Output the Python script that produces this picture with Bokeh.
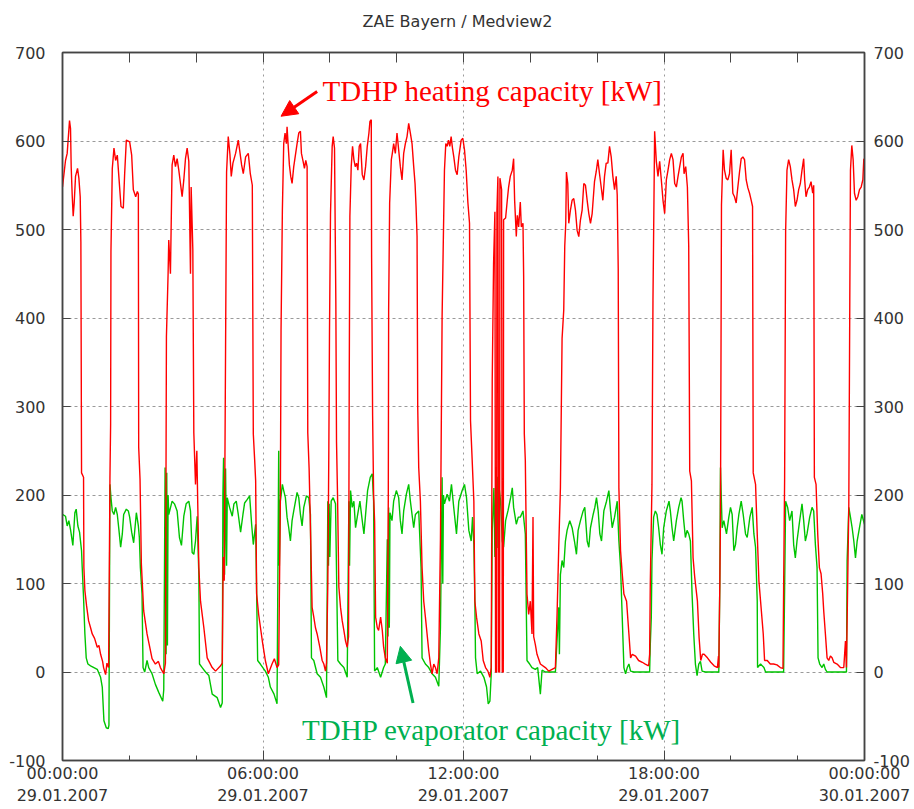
from bokeh.plotting import figure
from bokeh.models import Range1d, LinearAxis, FixedTicker, Arrow, NormalHead, Label
from bokeh.embed import file_html
from bokeh.resources import INLINE

# ---- data (hours after 29.01.2007 00:00, kW) ----
heat_t = [0.00, 0.09, 0.14, 0.21, 0.24, 0.26, 0.29, 0.32, 0.35, 0.39, 0.45, 0.49, 0.53, 0.55, 0.57, 0.63, 0.64, 0.67, 0.72, 0.78,
          0.84, 0.89, 0.96, 1.04, 1.09, 1.14, 1.20, 1.23, 1.29, 1.33, 1.38, 1.42, 1.44, 1.45, 1.49, 1.54, 1.59, 1.64, 1.69, 1.75,
          1.82, 1.86, 1.91, 2.01, 2.07, 2.12, 2.19, 2.24, 2.27, 2.28, 2.32, 2.36, 2.43, 2.53, 2.60, 2.68, 2.78, 2.87, 2.93, 3.03,
          3.08, 3.11, 3.16, 3.18, 3.23, 3.28, 3.33, 3.38, 3.43, 3.48, 3.53, 3.58, 3.63, 3.68, 3.73, 3.78, 3.83, 3.85, 3.90, 3.93,
          3.98, 4.02, 4.08, 4.13, 4.23, 4.33, 4.48, 4.58, 4.73, 4.78, 4.81, 4.84, 4.88, 4.91, 4.96, 5.01, 5.05, 5.10, 5.18, 5.26,
          5.30, 5.36, 5.41, 5.48, 5.56, 5.62, 5.68, 5.71, 5.75, 5.78, 5.81, 5.87, 5.98, 6.07, 6.16, 6.27, 6.34, 6.42, 6.47, 6.52,
          6.54, 6.58, 6.62, 6.66, 6.70, 6.72, 6.75, 6.79, 6.83, 6.87, 6.92, 6.97, 7.02, 7.07, 7.12, 7.15, 7.20, 7.24, 7.28, 7.32,
          7.34, 7.38, 7.41, 7.47, 7.52, 7.57, 7.62, 7.70, 7.77, 7.82, 7.87, 7.90, 7.94, 7.97, 7.99, 8.02, 8.07, 8.10, 8.14, 8.18,
          8.20, 8.23, 8.27, 8.32, 8.37, 8.42, 8.47, 8.52, 8.56, 8.58, 8.60, 8.64, 8.68, 8.72, 8.76, 8.80, 8.84, 8.88, 8.92, 8.97,
          9.02, 9.07, 9.12, 9.17, 9.20, 9.24, 9.25, 9.28, 9.31, 9.34, 9.37, 9.42, 9.46, 9.52, 9.57, 9.61, 9.66, 9.72, 9.75, 9.76,
          9.79, 9.84, 9.87, 9.91, 9.96, 10.01, 10.06, 10.11, 10.16, 10.21, 10.26, 10.31, 10.36, 10.41, 10.46, 10.51, 10.55, 10.58, 10.61, 10.63,
          10.66, 10.71, 10.76, 10.81, 10.86, 10.91, 10.96, 11.01, 11.06, 11.11, 11.16, 11.21, 11.26, 11.31, 11.36, 11.39, 11.43, 11.47, 11.51, 11.55,
          11.59, 11.63, 11.67, 11.71, 11.76, 11.81, 11.86, 11.93, 11.98, 12.03, 12.08, 12.13, 12.18, 12.21, 12.26, 12.31, 12.34, 12.39, 12.46, 12.53,
          12.59, 12.66, 12.73, 12.79, 12.83, 12.86, 12.90, 12.94, 12.96, 12.99, 13.00, 13.03, 13.05, 13.08, 13.09, 13.14, 13.16, 13.19, 13.20, 13.26,
          13.31, 13.35, 13.40, 13.46, 13.50, 13.53, 13.58, 13.61, 13.65, 13.70, 13.73, 13.78, 13.80, 13.82, 13.85, 13.90, 13.95, 14.00, 14.05, 14.08,
          14.10, 14.15, 14.20, 14.30, 14.45, 14.55, 14.65, 14.75, 14.80, 14.85, 14.90, 14.95, 15.00, 15.03, 15.06, 15.08, 15.12, 15.15, 15.20, 15.25,
          15.30, 15.35, 15.40, 15.45, 15.50, 15.55, 15.60, 15.65, 15.70, 15.75, 15.80, 15.85, 15.92, 15.97, 16.02, 16.07, 16.12, 16.17, 16.22, 16.27,
          16.32, 16.37, 16.42, 16.47, 16.52, 16.57, 16.60, 16.63, 16.65, 16.70, 16.75, 16.80, 16.88, 16.95, 17.00, 17.05, 17.15, 17.24, 17.35, 17.44,
          17.54, 17.57, 17.59, 17.64, 17.67, 17.72, 17.77, 17.82, 17.87, 17.92, 17.97, 18.02, 18.07, 18.12, 18.17, 18.22, 18.27, 18.32, 18.37, 18.42,
          18.47, 18.52, 18.57, 18.60, 18.65, 18.70, 18.74, 18.77, 18.82, 18.87, 18.92, 19.00, 19.05, 19.10, 19.15, 19.20, 19.30, 19.40, 19.50, 19.60,
          19.63, 19.64, 19.67, 19.69, 19.72, 19.77, 19.81, 19.86, 19.91, 19.96, 20.01, 20.06, 20.11, 20.16, 20.21, 20.26, 20.31, 20.36, 20.41, 20.46,
          20.51, 20.56, 20.61, 20.65, 20.67, 20.74, 20.79, 20.84, 20.89, 20.97, 21.01, 21.09, 21.18, 21.28, 21.38, 21.48, 21.56, 21.58, 21.61, 21.64,
          21.68, 21.73, 21.78, 21.83, 21.88, 21.93, 21.98, 22.03, 22.08, 22.13, 22.18, 22.21, 22.25, 22.30, 22.35, 22.40, 22.45, 22.48, 22.50, 22.55,
          22.60, 22.65, 22.70, 22.75, 22.78, 22.83, 22.88, 22.93, 22.98, 23.03, 23.08, 23.18, 23.28, 23.38, 23.43, 23.46, 23.53, 23.56, 23.58, 23.62,
          23.66, 23.70, 23.75, 23.80, 23.85, 23.90, 23.95, 23.98, 24.00]
heat_v = [548, 578, 586, 623, 614, 571, 539, 515, 530, 560, 569, 558, 537, 486, 225, 220, 118, 92, 75, 58,
          50, 43, 38, 28, 30, 20, 12, 5, -3, 10, 5, 220, 280, 475, 569, 592, 578, 584, 558, 526,
          524, 563, 601, 599, 584, 545, 537, 543, 540, 254, 218, 122, 69, 43, 30, 15, 9, 12, 5, -2,
          10, 379, 450, 488, 450, 573, 584, 571, 580, 567, 552, 537, 556, 580, 592, 577, 450, 548, 477, 270,
          212, 250, 118, 80, 50, 16, 5, 1, 7, 10, 130, 103, 366, 565, 605, 585, 560, 575, 586, 601,
          590, 573, 563, 582, 586, 563, 550, 269, 240, 216, 88, 65, 35, 13, -2, 9, 15, 5, 8, 200,
          386, 522, 597, 609, 597, 616, 597, 573, 560, 552, 571, 584, 597, 609, 611, 586, 577, 569, 578, 571,
          270, 230, 180, 73, 62, 50, 43, 28, 13, 9, 1, 10, 100, 250, 386, 518, 594, 605, 592, 417,
          260, 200, 96, 73, 58, 47, 35, 28, 40, 322, 515, 571, 594, 579, 571, 575, 567, 594, 597, 562,
          556, 571, 594, 609, 622, 624, 469, 290, 200, 170, 62, 50, 47, 62, 47, 28, 16, 10, 200, 409,
          530, 579, 586, 597, 586, 609, 590, 571, 556, 586, 597, 605, 620, 609, 597, 571, 552, 526, 492, 300,
          231, 193, 118, 80, 62, 43, 24, 9, -2, 9, 5, -2, 16, 150, 402, 473, 567, 597, 594, 601,
          594, 605, 592, 582, 567, 562, 582, 601, 603, 590, 567, 531, 507, 284, 239, 193, 80, 62, 43, 35,
          13, 5, 1, -6, 5, 330, 462, 520, 0, 0, 520, 560, 0, 0, 558, 545, 0, 0, 511, 513,
          533, 548, 560, 567, 580, 533, 492, 516, 503, 531, 503, 507, 447, 269, 239, 88, 65, 80, 43, 175,
          40, 31, 20, 9, 5, 1, 3, 5, 65, 141, 208, 377, 409, 481, 507, 565, 552, 507, 522, 533,
          535, 522, 499, 492, 511, 522, 552, 550, 533, 518, 507, 518, 554, 565, 579, 563, 548, 533, 560, 575,
          575, 594, 582, 560, 545, 560, 539, 456, 208, 137, 111, 88, 80, 43, 16, 20, 18, 13, 11, 9,
          7, 20, 100, 212, 420, 611, 577, 560, 577, 556, 533, 518, 556, 567, 579, 586, 579, 552, 548, 560,
          571, 582, 586, 563, 571, 548, 481, 227, 216, 129, 107, 80, 39, 13, 20, 20, 16, 11, 7, 5,
          18, 5, 99, 175, 528, 590, 567, 558, 556, 563, 590, 541, 537, 530, 548, 565, 580, 582, 579, 556,
          547, 541, 533, 526, 225, 212, 156, 103, 80, 43, 13, 13, 9, 9, 8, 5, 4, 95, 220, 498,
          567, 579, 571, 556, 545, 526, 533, 545, 552, 567, 580, 556, 537, 545, 548, 554, 541, 550, 220, 212,
          156, 118, 111, 88, 69, 43, 16, 13, 18, 16, 11, 9, 5, 5, 35, 5, 186, 420, 567, 595,
          579, 541, 533, 537, 545, 548, 556, 580, 575]

evap_t = [0.00, 0.09, 0.14, 0.19, 0.24, 0.31, 0.37, 0.41, 0.46, 0.51, 0.57, 0.59, 0.63, 0.67, 0.71, 0.76, 0.84, 0.94, 1.04, 1.14,
          1.19, 1.24, 1.31, 1.37, 1.39, 1.42, 1.45, 1.49, 1.54, 1.59, 1.64, 1.69, 1.74, 1.79, 1.83, 1.91, 1.97, 2.01, 2.07, 2.13,
          2.21, 2.27, 2.30, 2.33, 2.38, 2.41, 2.46, 2.53, 2.58, 2.68, 2.78, 2.88, 3.00, 3.03, 3.07, 3.10, 3.12, 3.14, 3.16, 3.18,
          3.28, 3.35, 3.43, 3.50, 3.56, 3.63, 3.70, 3.78, 3.83, 3.88, 3.93, 3.98, 4.03, 4.08, 4.10, 4.18, 4.28, 4.38, 4.48, 4.63,
          4.73, 4.78, 4.80, 4.82, 4.85, 4.88, 4.91, 4.93, 5.00, 5.08, 5.13, 5.20, 5.26, 5.33, 5.40, 5.45, 5.53, 5.60, 5.66, 5.71,
          5.78, 5.81, 5.84, 5.92, 6.07, 6.16, 6.22, 6.33, 6.42, 6.47, 6.49, 6.52, 6.58, 6.62, 6.67, 6.72, 6.77, 6.82, 6.87, 6.92,
          7.02, 7.07, 7.12, 7.17, 7.22, 7.30, 7.37, 7.42, 7.45, 7.52, 7.62, 7.72, 7.82, 7.90, 7.94, 7.96, 7.98, 8.00, 8.04, 8.10,
          8.17, 8.24, 8.32, 8.42, 8.52, 8.57, 8.59, 8.62, 8.67, 8.72, 8.77, 8.82, 8.90, 8.97, 9.02, 9.07, 9.13, 9.21, 9.27, 9.31,
          9.34, 9.42, 9.52, 9.61, 9.66, 9.72, 9.74, 9.76, 9.78, 9.80, 9.86, 9.91, 9.99, 10.06, 10.11, 10.16, 10.21, 10.29, 10.36, 10.41,
          10.46, 10.51, 10.56, 10.66, 10.73, 10.76, 10.86, 10.96, 11.06, 11.16, 11.26, 11.31, 11.36, 11.38, 11.40, 11.43, 11.51, 11.58, 11.64, 11.71,
          11.79, 11.86, 11.96, 12.03, 12.09, 12.16, 12.23, 12.27, 12.31, 12.34, 12.36, 12.41, 12.51, 12.61, 12.69, 12.74, 12.79, 12.83, 12.86, 12.91,
          12.94, 12.97, 13.01, 13.03, 13.06, 13.11, 13.16, 13.20, 13.26, 13.33, 13.41, 13.46, 13.50, 13.58, 13.64, 13.70, 13.78, 13.85, 13.90, 13.98,
          14.05, 14.15, 14.22, 14.30, 14.35, 14.45, 14.75, 14.85, 14.87, 14.90, 14.95, 15.00, 15.05, 15.10, 15.18, 15.25, 15.32, 15.38, 15.43, 15.50,
          15.58, 15.63, 15.70, 15.75, 15.80, 15.88, 15.93, 15.98, 16.03, 16.08, 16.13, 16.20, 16.28, 16.35, 16.40, 16.45, 16.52, 16.60, 16.65, 16.70,
          16.75, 16.80, 16.85, 16.90, 16.95, 17.00, 17.10, 17.57, 17.59, 17.62, 17.64, 17.69, 17.74, 17.79, 17.84, 17.89, 17.94, 17.99, 18.07, 18.15,
          18.19, 18.24, 18.29, 18.37, 18.44, 18.51, 18.54, 18.59, 18.64, 18.69, 18.74, 18.79, 18.84, 18.89, 18.94, 18.99, 19.04, 19.09, 19.14, 19.24,
          19.64, 19.67, 19.69, 19.74, 19.79, 19.87, 19.94, 19.99, 20.04, 20.09, 20.14, 20.19, 20.24, 20.31, 20.37, 20.44, 20.49, 20.57, 20.64, 20.69,
          20.74, 20.79, 20.80, 20.89, 20.99, 21.04, 21.58, 21.61, 21.64, 21.70, 21.76, 21.83, 21.88, 21.93, 21.98, 22.06, 22.13, 22.18, 22.23, 22.28,
          22.36, 22.43, 22.48, 22.53, 22.58, 22.61, 22.66, 22.73, 22.78, 22.83, 22.88, 23.46, 23.48, 23.53, 23.58, 23.63, 23.68, 23.73, 23.78, 23.85,
          23.92, 24.00]
evap_v = [178, 176, 165, 171, 161, 143, 180, 184, 165, 158, 137, 118, 84, 43, 16, 9, 7, 5, 3, -6,
          -17, -55, -63, -64, -60, 212, 197, 182, 178, 186, 178, 160, 141, 156, 178, 184, 182, 175, 158, 146,
          180, 165, 152, 118, 88, 5, 0, 13, 5, -2, -14, -23, -33, -20, 231, 20, 225, 30, 200, 178,
          193, 190, 182, 152, 143, 176, 190, 193, 182, 135, 133, 148, 176, 110, 9, 5, 0, -4, -25, -29,
          -40, -35, 200, 242, 110, 230, 120, 197, 186, 176, 190, 193, 178, 158, 178, 191, 195, 199, 167, 144,
          167, 88, 13, 9, 1, -6, -17, -25, -36, 250, 120, 193, 212, 205, 197, 175, 163, 148, 171, 182,
          203, 197, 178, 165, 186, 199, 197, 178, 16, 13, -2, -6, -17, -29, 193, 120, 190, 130, 193, 197,
          190, 13, 9, 5, -6, 193, 120, 205, 186, 193, 163, 175, 193, 171, 156, 178, 205, 220, 224, 193,
          1, 5, -6, 5, 9, 150, 40, 186, 50, 180, 171, 193, 205, 197, 171, 156, 182, 201, 212, 193,
          178, 163, 178, 182, 118, 16, 9, 5, -2, -6, -16, 50, 220, 100, 200, 190, 201, 193, 212, 185,
          156, 193, 205, 212, 197, 160, 148, 175, 144, 80, 16, -2, 1, -6, -17, -36, -33, -2, 160, 208,
          130, 220, 220, 140, 210, 193, 148, 141, 171, 182, 197, 208, 186, 167, 175, 175, 182, 156, 13, 9,
          5, 3, 5, -25, 2, 0, 0, 73, 20, 110, 126, 118, 148, 160, 171, 163, 148, 133, 160, 171,
          182, 186, 148, 141, 163, 178, 186, 197, 182, 156, 148, 182, 193, 205, 182, 163, 175, 193, 148, 118,
          62, 5, -2, 5, 9, 1, 0, 0, 31, 62, 126, 175, 182, 178, 163, 144, 133, 163, 182, 193,
          182, 163, 148, 171, 186, 197, 193, 171, 152, 160, 156, 148, 88, 43, 9, -4, 9, 12, 1, 0,
          0, 99, 231, 163, 171, 156, 175, 186, 178, 137, 144, 163, 178, 193, 178, 156, 152, 175, 186, 156,
          141, 80, 5, 9, 5, 0, 0, 95, 193, 186, 171, 182, 144, 129, 148, 171, 190, 171, 148, 156,
          175, 186, 182, 144, 118, 16, 9, 5, 9, 3, 0, 0, 126, 186, 175, 163, 148, 129, 148, 163,
          178, 167]

hour_ticks = [0, 6, 12, 18, 24]
hour_labels = ["00:00:00\n29.01.2007", "06:00:00\n29.01.2007", "12:00:00\n29.01.2007",
               "18:00:00\n29.01.2007", "00:00:00\n30.01.2007"]
minor_hours = [2, 4, 8, 10, 14, 16, 20, 22]
top_hours = [0, 2, 4, 6, 8, 10, 12, 14, 16, 18, 20, 22, 24]
kw_ticks = [-100, 0, 100, 200, 300, 400, 500, 600, 700]
kw_labels = ["-100", "0", "100", "200", "300", "400", "500", "600", "700"]
grid_kw = [0, 100, 200, 300, 400, 500, 600]
grid_hours = [6, 12, 18]

title_text = "ZAE Bayern / Medview2"
heat_label = "TDHP heating capacity [kW]"
evap_label = "TDHP evaporator capacity [kW]"

RED = "#ff0000"
GREEN_LINE = "#00c400"
GREEN_TEXT = "#00b050"
AXIS = "#444444"
TXT = "#333333"
FONT = "DejaVu Sans"

p = figure(width=914, height=809, output_backend="svg", toolbar_location=None,
           x_range=Range1d(0, 24), y_range=Range1d(-100, 700),
           min_border_left=62, min_border_right=50, min_border_top=52, min_border_bottom=49)
p.background_fill_color = "white"
p.border_fill_color = "white"
p.outline_line_color = AXIS
p.outline_line_width = 1.5

# title (a blank second line lifts it towards the top edge)
p.title.text = title_text + "\n "
p.title.align = "left"
p.title.offset = 300
p.title.text_font = FONT
p.title.text_font_size = "16px"
p.title.text_font_style = "normal"
p.title.text_color = TXT
p.title.text_line_height = 1.0
p.title.standoff = 6

# bottom axis
xa = p.xaxis[0]
xa.ticker = FixedTicker(ticks=hour_ticks, minor_ticks=minor_hours)
xa.major_label_overrides = dict(zip(hour_ticks, hour_labels))
xa.major_tick_in = 10
xa.major_tick_out = 0
xa.minor_tick_in = 5
xa.minor_tick_out = 0
xa.axis_line_color = AXIS
xa.axis_line_width = 1.5
xa.major_tick_line_color = AXIS
xa.minor_tick_line_color = AXIS
xa.major_label_text_font = FONT
xa.major_label_text_font_size = "16px"
xa.major_label_text_color = TXT
xa.major_label_standoff = 3

# left axis
ya = p.yaxis[0]
ya.ticker = FixedTicker(ticks=kw_ticks)
ya.major_label_overrides = dict(zip(kw_ticks, kw_labels))
ya.major_tick_in = 8
ya.major_tick_out = 0
ya.minor_tick_line_color = None
ya.axis_line_color = AXIS
ya.axis_line_width = 1.5
ya.major_tick_line_color = AXIS
ya.major_label_text_font = FONT
ya.major_label_text_font_size = "16px"
ya.major_label_text_color = TXT
ya.major_label_standoff = 17

# right axis
ra = LinearAxis(ticker=FixedTicker(ticks=kw_ticks), major_label_overrides=dict(zip(kw_ticks, kw_labels)),
                major_tick_in=8, major_tick_out=0,
                minor_tick_line_color=None, axis_line_color=AXIS, axis_line_width=1.5,
                major_tick_line_color=AXIS, major_label_text_font=FONT,
                major_label_text_font_size="16px", major_label_text_color=TXT,
                major_label_standoff=9)
p.add_layout(ra, "right")

# top axis (ticks only, no labels)
ta = LinearAxis(ticker=FixedTicker(ticks=top_hours), major_label_overrides={h: "" for h in top_hours},
                major_tick_in=10, major_tick_out=0,
                minor_tick_line_color=None, axis_line_color=AXIS, axis_line_width=1.5,
                major_tick_line_color=AXIS, major_label_standoff=0)
p.add_layout(ta, "above")

# grids
p.xgrid.ticker = FixedTicker(ticks=grid_hours)
p.xgrid.grid_line_color = "#9a9a9a"
p.xgrid.grid_line_dash = "2 4"
p.xgrid.grid_line_width = 1
p.ygrid.ticker = FixedTicker(ticks=grid_kw)
p.ygrid.grid_line_color = "#9a9a9a"
p.ygrid.grid_line_dash = "3 3"
p.ygrid.grid_line_width = 1

# series
p.line(evap_t, evap_v, line_color=GREEN_LINE, line_width=1.4)
p.line(heat_t, heat_v, line_color=RED, line_width=1.4)

# annotations
p.add_layout(Arrow(end=NormalHead(size=16, fill_color=RED, line_color=RED),
                   x_start=7.62, y_start=656, x_end=6.54, y_end=628,
                   line_color=RED, line_width=3))
p.add_layout(Label(x=7.78, y=656, text=heat_label, text_align="left", text_baseline="alphabetic",
                   text_font="Liberation Serif", text_font_size="29px", text_color=RED))
p.add_layout(Arrow(end=NormalHead(size=16, fill_color=GREEN_TEXT, line_color=GREEN_TEXT),
                   x_start=10.49, y_start=-35, x_end=10.11, y_end=29,
                   line_color=GREEN_TEXT, line_width=3))
p.add_layout(Label(x=7.17, y=-65, text=evap_label, text_align="left", text_baseline="alphabetic",
                   text_font="Liberation Serif", text_font_size="29px", text_color=GREEN_TEXT))

open("out.html", "w").write(file_html(p, INLINE))
